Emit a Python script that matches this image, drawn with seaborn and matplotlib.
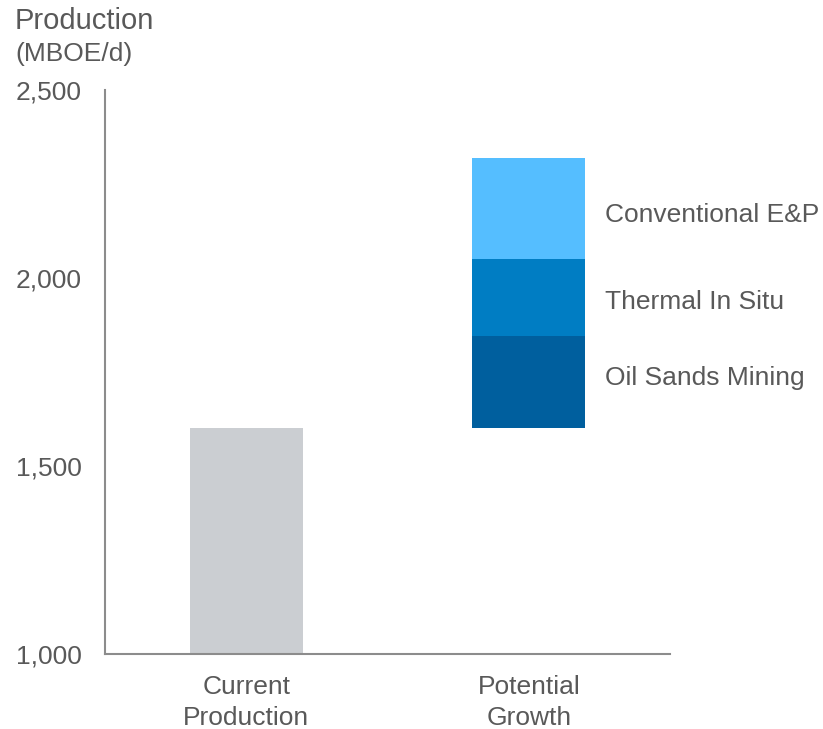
import matplotlib
matplotlib.use("Agg")
import matplotlib.pyplot as plt
import seaborn as sns

categories = ["Current\nProduction", "Potential\nGrowth"]
current_value = 1600
growth_segments = ["Oil Sands Mining", "Thermal In Situ", "Conventional E&P"]
growth_values = [245, 205, 270]
segment_colors = ["#005F9E", "#007DC3", "#55BEFF"]
current_color = "#CBCED2"
y_ticks = [1000, 1500, 2000, 2500]
y_tick_labels = ["1,000", "1,500", "2,000", "2,500"]

sns.set_style("white")
plt.rcParams["font.family"] = ["Liberation Sans", "DejaVu Sans"]
text_color = "#595959"
spine_color = "#8C8C8C"

fig = plt.figure(figsize=(8.23, 7.29), dpi=100)
ax = fig.add_axes([105 / 823, 1 - 654 / 729, (670 - 105) / 823, (654 - 90) / 729])

# Current production bar
sns.barplot(x=[categories[0]], y=[current_value], order=categories,
            color=current_color, width=0.4, saturation=1, linewidth=0,
            edgecolor="none", ax=ax)

# Stacked growth bar
label_offsets = [3, -3, -5]  # points, small vertical nudges of labels
base = current_value
for seg, val, col, off in zip(growth_segments, growth_values, segment_colors, label_offsets):
    sns.barplot(x=[categories[1]], y=[val], order=categories, bottom=base,
                color=col, width=0.4, saturation=1, linewidth=0,
                edgecolor="none", ax=ax)
    ax.annotate(seg, xy=(1.27, base + val / 2), xytext=(0, off),
                textcoords="offset points", ha="left", va="center",
                fontsize=19, color=text_color)
    base += val

ax.set_ylim(1000, 2500)
ax.set_xlim(-0.5, 1.5)
ax.set_yticks(y_ticks)
ax.set_yticklabels(y_tick_labels)
ax.set_xlabel("")
ax.set_ylabel("")
ax.tick_params(axis="y", length=0, pad=17, labelsize=19, labelcolor=text_color)
ax.tick_params(axis="x", length=0, pad=15, labelsize=19, labelcolor=text_color)
for lbl in ax.get_xticklabels():
    lbl.set_linespacing(1.4)

for side in ["top", "right"]:
    ax.spines[side].set_visible(False)
for side in ["left", "bottom"]:
    ax.spines[side].set_color(spine_color)
    ax.spines[side].set_linewidth(1.5)

fig.text(15 / 823, 1 - 21 / 729, "Production", ha="left", va="center",
         fontsize=21, color=text_color)
fig.text(15 / 823, 1 - 54 / 729, "(MBOE/d)", ha="left", va="center",
         fontsize=19, color=text_color)

fig.savefig("out.png", dpi=100)
